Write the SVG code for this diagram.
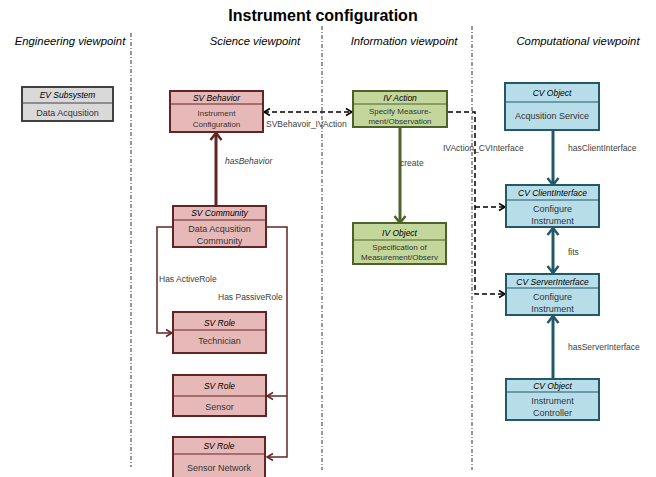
<svg xmlns="http://www.w3.org/2000/svg" width="656" height="477" viewBox="0 0 656 477">
<defs>
<style>
.title{font-family:"Liberation Sans",Arial,sans-serif;font-weight:bold;font-size:16px;fill:#000;text-anchor:middle}
.hdr{font-family:"Liberation Sans",Arial,sans-serif;font-style:italic;font-size:11.3px;fill:#000;text-anchor:middle}
.nt{font-family:"Liberation Sans",Arial,sans-serif;font-style:italic;font-size:8.5px;fill:#000;text-anchor:middle}
.nb{font-family:"Liberation Sans",Arial,sans-serif;font-size:9px;fill:#333;text-anchor:middle}
.nbs{font-family:"Liberation Sans",Arial,sans-serif;font-size:8px;fill:#333;text-anchor:middle}
.lbl{font-family:"Liberation Sans",Arial,sans-serif;font-size:8.5px;fill:#404040}
.lbli{font-family:"Liberation Sans",Arial,sans-serif;font-style:italic;font-size:8.5px;fill:#404040}
.vp{fill:none;stroke:#333;stroke-width:1;stroke-dasharray:4 2 1 2}
.ev rect{fill:#d9d9d9;stroke:#404040;stroke-width:2}
.ev line{stroke:#404040;stroke-width:1}
.sv rect{fill:#e6b9b8;stroke:#632523;stroke-width:2}
.sv line{stroke:#632523;stroke-width:1}
.iv rect{fill:#c3d69b;stroke:#4f6228;stroke-width:2}
.iv line{stroke:#4f6228;stroke-width:1}
.cv rect{fill:#b7dde8;stroke:#215968;stroke-width:2}
.cv line{stroke:#215968;stroke-width:1}
.dash{fill:none;stroke:#000;stroke-width:1.5;stroke-dasharray:5 3}
</style>
<marker id="aRedT" markerUnits="userSpaceOnUse" markerWidth="14" markerHeight="14" refX="9" refY="7" orient="auto-start-reverse"><path d="M2,1.5 L9,7 L2,12.5" fill="none" stroke="#632523" stroke-width="2.5"/></marker>
<marker id="aRed" markerUnits="userSpaceOnUse" markerWidth="10" markerHeight="10" refX="8" refY="5" orient="auto-start-reverse"><path d="M2,1.5 L8,5 L2,8.5" fill="none" stroke="#632523" stroke-width="1.5"/></marker>
<marker id="aGrn" markerUnits="userSpaceOnUse" markerWidth="14" markerHeight="14" refX="9" refY="7" orient="auto-start-reverse"><path d="M2,1.5 L9,7 L2,12.5" fill="none" stroke="#4f6228" stroke-width="2.5"/></marker>
<marker id="aTeal" markerUnits="userSpaceOnUse" markerWidth="14" markerHeight="14" refX="9" refY="7" orient="auto-start-reverse"><path d="M2,1.5 L9,7 L2,12.5" fill="none" stroke="#215968" stroke-width="2.5"/></marker>
<marker id="aBlk" markerUnits="userSpaceOnUse" markerWidth="10" markerHeight="10" refX="8" refY="5" orient="auto-start-reverse"><path d="M2,1.5 L8,5 L2,8.5" fill="none" stroke="#000" stroke-width="1.5"/></marker>
</defs>
<rect width="656" height="477" fill="#fff"/>

<text class="title" x="323" y="21">Instrument configuration</text>
<g id="headers">
<text class="hdr" x="70" y="45">Engineering viewpoint</text>
<text class="hdr" x="255" y="45">Science viewpoint</text>
<text class="hdr" x="404" y="45">Information viewpoint</text>
<text class="hdr" x="578" y="45">Computational viewpoint</text>
</g>
<g id="viewpoint-lines">
<line class="vp" x1="131" y1="33" x2="131" y2="467"/>
<line class="vp" x1="322" y1="26" x2="322" y2="470"/>
<line class="vp" x1="472" y1="26" x2="472" y2="470"/>
</g>

<g id="connectors">
<path d="M216,206 V133" fill="none" stroke="#632523" stroke-width="3" marker-end="url(#aRedT)"/>
<path d="M173,227 H157 V333 H172" fill="none" stroke="#632523" stroke-width="1.5" marker-end="url(#aRed)"/>
<path d="M266,227 H287 V457 H267" fill="none" stroke="#632523" stroke-width="1.5" marker-end="url(#aRed)"/>
<path d="M287,396 H267" fill="none" stroke="#632523" stroke-width="1.5" marker-end="url(#aRed)"/>
<path class="dash" d="M264,112 H352" marker-start="url(#aBlk)" marker-end="url(#aBlk)"/>
<path class="dash" d="M448,112 H475 V294 H505" marker-end="url(#aBlk)"/>
<path class="dash" d="M475,207 H505" marker-end="url(#aBlk)"/>
<path d="M400,128 V223" fill="none" stroke="#4f6228" stroke-width="3" marker-end="url(#aGrn)"/>
<path d="M553,131 V185" fill="none" stroke="#215968" stroke-width="3" marker-end="url(#aTeal)"/>
<path d="M553,228 V273" fill="none" stroke="#215968" stroke-width="3" marker-start="url(#aTeal)" marker-end="url(#aTeal)"/>
<path d="M553,378 V316" fill="none" stroke="#215968" stroke-width="3" marker-end="url(#aTeal)"/>
<text class="lbli" x="225" y="164">hasBehavior</text>
<text class="lbl" x="159" y="282">Has ActiveRole</text>
<text class="lbl" x="218" y="300">Has PassiveRole</text>
<text class="lbl" x="266" y="127">SVBehavoir_IVAction</text>
<text class="lbl" x="400" y="166">create</text>
<text class="lbl" x="443" y="151">IVAction_CVInterface</text>
<text class="lbl" x="568" y="151">hasClientInterface</text>
<text class="lbl" x="568" y="255">fits</text>
<text class="lbl" x="568" y="350">hasServerInterface</text>
</g>

<g id="ev-subsystem" class="ev">
<rect x="22" y="87" width="91" height="34"/>
<line x1="22" y1="103" x2="113" y2="103"/>
<text class="nt" x="67.5" y="98">EV Subsystem</text>
<text class="nb" x="67.5" y="116">Data Acqusition</text>
</g>

<g id="sv-behavior" class="sv">
<rect x="170" y="91" width="93" height="41"/>
<line x1="170" y1="104" x2="263" y2="104"/>
<text class="nt" x="216.5" y="101">SV Behavior</text>
<text class="nbs" x="216.5" y="116">Instrument</text>
<text class="nbs" x="216.5" y="127">Configuration</text>
</g>

<g id="sv-community" class="sv">
<rect x="173" y="206" width="93" height="41"/>
<line x1="173" y1="220" x2="266" y2="220"/>
<text class="nt" x="219.5" y="216">SV Community</text>
<text class="nb" x="219.5" y="232">Data Acqusition</text>
<text class="nb" x="219.5" y="244">Community</text>
</g>

<g id="sv-technician" class="sv">
<rect x="173" y="312" width="93" height="41"/>
<line x1="173" y1="330" x2="266" y2="330"/>
<text class="nt" x="219.5" y="326">SV Role</text>
<text class="nb" x="219.5" y="344">Technician</text>
</g>

<g id="sv-sensor" class="sv">
<rect x="173" y="375" width="93" height="41"/>
<line x1="173" y1="396" x2="266" y2="396"/>
<text class="nt" x="219.5" y="389">SV Role</text>
<text class="nb" x="219.5" y="410">Sensor</text>
</g>

<g id="sv-sensor-network" class="sv">
<rect x="173" y="437" width="92" height="44"/>
<line x1="173" y1="454" x2="265" y2="454"/>
<text class="nt" x="219" y="449">SV Role</text>
<text class="nb" x="219" y="471">Sensor Network</text>
</g>

<g id="iv-action" class="iv">
<rect x="353" y="91" width="94" height="36"/>
<line x1="353" y1="104" x2="447" y2="104"/>
<text class="nt" x="400" y="101">IV Action</text>
<text class="nbs" x="400" y="114">Specify Measure-</text>
<text class="nbs" x="400" y="124">ment/Observation</text>
</g>

<g id="iv-object" class="iv">
<rect x="353" y="223" width="93" height="41"/>
<line x1="353" y1="240" x2="446" y2="240"/>
<text class="nt" x="399.5" y="236">IV Object</text>
<text class="nbs" x="399.5" y="250">Specification of</text>
<text class="nbs" x="399.5" y="260">Measurement/Observ</text>
</g>

<g id="cv-acq-service" class="cv">
<rect x="505" y="83" width="94" height="47"/>
<line x1="505" y1="102" x2="599" y2="102"/>
<text class="nt" x="552" y="96">CV Object</text>
<text class="nb" x="552" y="119">Acqusition Service</text>
</g>

<g id="cv-client-interface" class="cv">
<rect x="506" y="185" width="93" height="42"/>
<line x1="506" y1="200" x2="599" y2="200"/>
<text class="nt" x="552.5" y="196">CV ClientInterface</text>
<text class="nb" x="552.5" y="212">Configure</text>
<text class="nb" x="552.5" y="224">Instrument</text>
</g>

<g id="cv-server-interface" class="cv">
<rect x="506" y="274" width="93" height="41"/>
<line x1="506" y1="288" x2="599" y2="288"/>
<text class="nt" x="552.5" y="285">CV ServerInterface</text>
<text class="nb" x="552.5" y="300">Configure</text>
<text class="nb" x="552.5" y="312">Instrument</text>
</g>

<g id="cv-instrument-controller" class="cv">
<rect x="506" y="379" width="93" height="41"/>
<line x1="506" y1="392" x2="599" y2="392"/>
<text class="nt" x="552.5" y="389">CV Object</text>
<text class="nb" x="552.5" y="404">Instrument</text>
<text class="nb" x="552.5" y="416">Controller</text>
</g>
</svg>
